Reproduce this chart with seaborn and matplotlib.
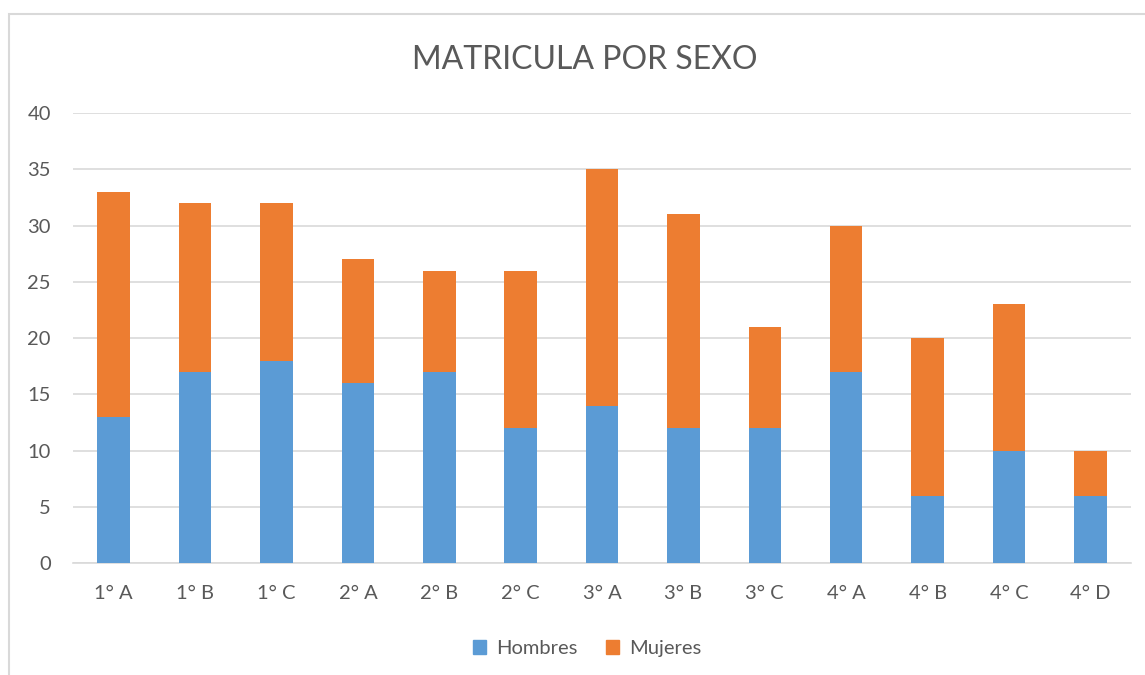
import matplotlib
matplotlib.use("Agg")
import matplotlib.pyplot as plt
import matplotlib.patches as mpatches
import seaborn as sns
import pandas as pd

grupos = ["1° A", "1° B", "1° C", "2° A", "2° B", "2° C", "3° A", "3° B", "3° C",
          "4° A", "4° B", "4° C", "4° D"]
hombres = [13, 17, 18, 16, 17, 12, 14, 12, 12, 17, 6, 10, 6]
mujeres = [20, 15, 14, 11, 9, 14, 21, 19, 9, 13, 14, 13, 4]

AZUL = "#5B9BD5"
NARANJA = "#ED7D31"
GRIS = "#595959"

df = pd.DataFrame({"grupo": grupos, "Hombres": hombres, "Mujeres": mujeres})
df["total"] = df["Hombres"] + df["Mujeres"]

sns.set_theme(style="white")
plt.rcParams["font.family"] = ["Lato", "DejaVu Sans"]

fig = plt.figure(figsize=(11.45, 6.75), dpi=100)
ax = fig.add_axes([0.0638, 0.1659, 0.9240, 0.6667])

# stacked bars: total in orange, hombres drawn over it in blue
sns.barplot(data=df, x="grupo", y="total", color=NARANJA, width=0.4,
            saturation=1, linewidth=0, ax=ax, zorder=3)
sns.barplot(data=df, x="grupo", y="Hombres", color=AZUL, width=0.4,
            saturation=1, linewidth=0, ax=ax, zorder=4)

ax.set_ylim(0, 40)
ax.set_yticks(range(0, 41, 5))
ax.set_xlim(-0.5, len(grupos) - 0.5)
ax.yaxis.grid(True, color="#D9D9D9", linewidth=1.2, zorder=0)
ax.set_axisbelow(True)
for s in ["top", "right", "left"]:
    ax.spines[s].set_visible(False)
ax.spines["bottom"].set_color("#D9D9D9")
ax.spines["bottom"].set_linewidth(1.2)
ax.set_xlabel("")
ax.set_ylabel("")
ax.tick_params(axis="both", length=0, labelsize=14.5, colors=GRIS)
ax.tick_params(axis="y", pad=16)
ax.tick_params(axis="x", pad=16)

fig.text(0.511, 0.911, "MATRICULA POR SEXO", ha="center", va="center",
         fontsize=23, color=GRIS)

handles = [mpatches.Patch(color=AZUL, label="Hombres"),
           mpatches.Patch(color=NARANJA, label="Mujeres")]
fig.legend(handles=handles, loc="center", bbox_to_anchor=(0.513, 0.039), ncol=2,
           frameon=False, fontsize=14.5, labelcolor=GRIS, handlelength=0.65,
           handleheight=0.65, handletextpad=0.5, columnspacing=1.4)

# outer chart border
fig.add_artist(mpatches.Rectangle((9 / 1145, -0.1), 1.2, (675 - 14) / 675 + 0.1,
                                  transform=fig.transFigure, fill=False,
                                  edgecolor="#D9D9D9", linewidth=1.5))

fig.savefig("out.png", dpi=100)
